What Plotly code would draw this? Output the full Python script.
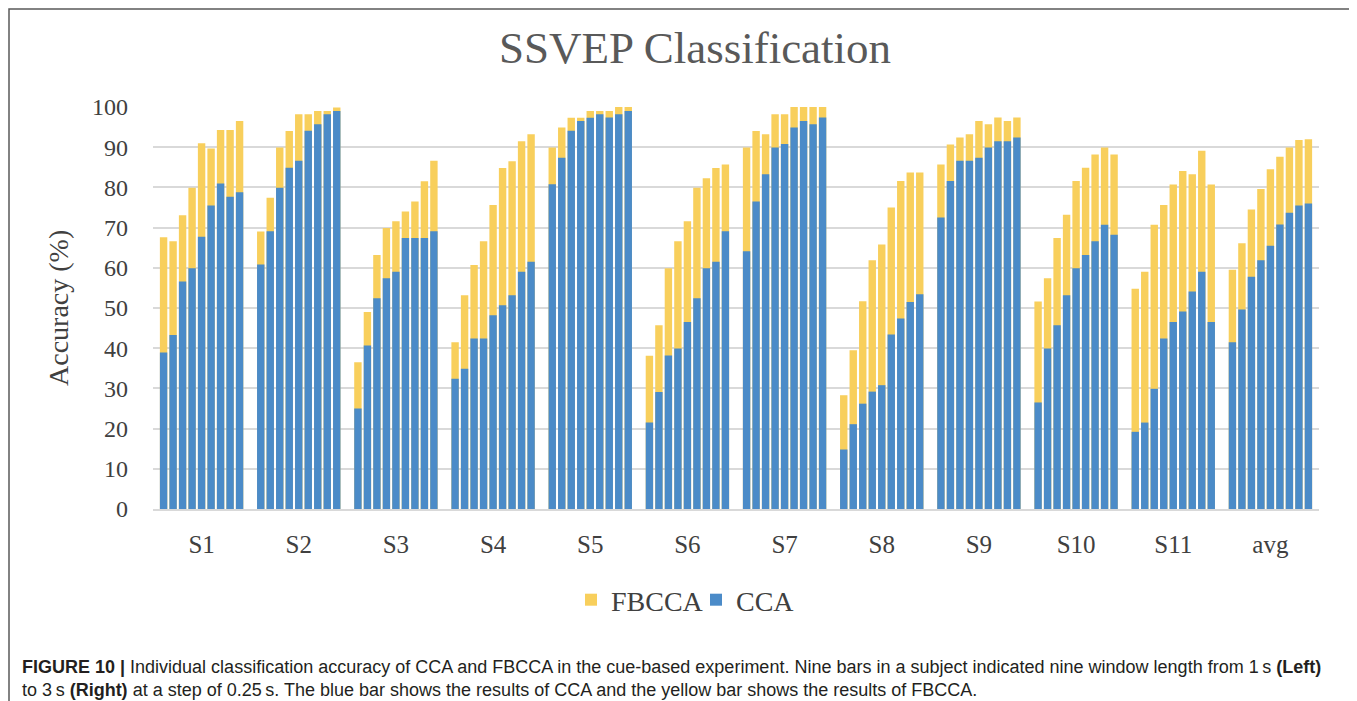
import plotly.graph_objects as go

# subjects on the x axis, nine window lengths (1 s .. 3 s, step 0.25 s) per subject
subjects = ["S1", "S2", "S3", "S4", "S5", "S6", "S7", "S8", "S9", "S10", "S11", "avg"]
windows = ["1.00 s", "1.25 s", "1.50 s", "1.75 s", "2.00 s", "2.25 s", "2.50 s", "2.75 s", "3.00 s"]

# FBCCA accuracy (%), one row per subject, one value per window length
fbcca = [
    [67.6, 66.6, 73.1, 79.9, 91.0, 89.7, 94.3, 94.3, 96.5],
    [69.0, 77.4, 89.9, 94.0, 98.2, 98.2, 99.0, 99.0, 99.9],
    [36.5, 49.0, 63.2, 69.9, 71.6, 74.0, 76.5, 81.5, 86.6],
    [41.5, 53.2, 60.7, 66.6, 75.6, 84.8, 86.5, 91.5, 93.2],
    [89.9, 94.9, 97.3, 97.3, 99.0, 99.0, 99.0, 100.0, 100.0],
    [38.1, 45.7, 59.9, 66.6, 71.6, 79.9, 82.3, 84.8, 85.7],
    [89.9, 94.0, 93.2, 98.2, 98.2, 100.0, 100.0, 100.0, 100.0],
    [28.3, 39.5, 51.7, 61.9, 65.8, 75.0, 81.6, 83.7, 83.7],
    [85.7, 90.7, 92.4, 93.2, 96.5, 95.7, 97.4, 96.5, 97.4],
    [51.6, 57.4, 67.4, 73.2, 81.6, 84.9, 88.2, 89.9, 88.2],
    [54.8, 59.0, 70.7, 75.6, 80.7, 84.1, 83.3, 89.1, 80.7],
    [59.5, 66.1, 74.5, 79.6, 84.5, 87.6, 89.9, 91.8, 92.0],
]

# CCA accuracy (%)
cca = [
    [38.9, 43.3, 56.6, 59.9, 67.7, 75.5, 81.0, 77.7, 78.8],
    [60.8, 69.1, 79.9, 84.9, 86.6, 94.1, 95.7, 98.2, 99.0],
    [25.0, 40.7, 52.4, 57.4, 59.0, 67.4, 67.4, 67.4, 69.1],
    [32.4, 34.9, 42.4, 42.4, 48.2, 50.7, 53.2, 59.0, 61.5],
    [80.8, 87.4, 94.1, 96.5, 97.3, 98.2, 97.4, 98.2, 99.0],
    [21.5, 29.1, 38.2, 39.9, 46.5, 52.4, 59.9, 61.5, 69.1],
    [64.1, 76.5, 83.3, 89.9, 90.8, 94.9, 96.5, 95.7, 97.4],
    [14.8, 21.1, 26.2, 29.2, 30.8, 43.4, 47.4, 51.5, 53.4],
    [72.5, 81.6, 86.6, 86.6, 87.4, 89.9, 91.5, 91.5, 92.4],
    [26.5, 39.9, 45.7, 53.2, 59.9, 63.2, 66.6, 70.7, 68.2],
    [19.2, 21.5, 29.9, 42.4, 46.5, 49.1, 54.1, 59.0, 46.5],
    [41.5, 49.6, 57.8, 61.9, 65.5, 70.8, 73.7, 75.5, 76.0],
]

YELLOW = "#F8CF5C"
BLUE = "#4B8BC8"
SERIF = "Liberation Serif, Times New Roman, serif"
SANS = "Liberation Sans, Arial, sans-serif"

# plot box on the page (the page body adds an 8px margin to the figure)
PAGE_OFF = 8
BOX_L, BOX_R, BOX_T, BOX_B = 153, 1319, 107, 509


def px(x):
    """Page x pixel -> paper x."""
    return (x - BOX_L) / (BOX_R - BOX_L)


def py(y):
    """Page y pixel -> paper y."""
    return (BOX_B - y) / (BOX_B - BOX_T)


fig = go.Figure()

# FBCCA bars behind, CCA bars drawn on top at the same slot (same offsetgroup)
for name, table, color in [("FBCCA", fbcca, YELLOW), ("CCA", cca, BLUE)]:
    for k, win in enumerate(windows):
        fig.add_trace(
            go.Bar(
                x=subjects,
                y=[row[k] for row in table],
                name=name,
                legendgroup=name,
                showlegend=(k == 0),
                offsetgroup=str(k),
                marker=dict(color=color, line=dict(width=0)),
                hovertemplate=f"{name} {win}: %{{y}}%<extra></extra>",
            )
        )

W, H = 1357 - PAGE_OFF, 701 - PAGE_OFF
fig.update_layout(
    width=W,
    height=H,
    paper_bgcolor="white",
    plot_bgcolor="white",
    barmode="group",
    bargap=0.12,
    bargroupgap=0.22,
    margin=dict(l=BOX_L - PAGE_OFF, r=1357 - BOX_R, t=BOX_T - PAGE_OFF, b=701 - BOX_B),
    font=dict(family=SERIF, color="#404040"),
    showlegend=True,
    legend=dict(
        orientation="h",
        x=px(696),
        xanchor="center",
        y=py(600),
        yanchor="middle",
        font=dict(family=SERIF, size=28, color="#404040"),
        itemwidth=30,
        entrywidth=80,
        traceorder="normal",
    ),
    annotations=[
        dict(
            text="SSVEP Classification",
            xref="paper", yref="paper", x=px(695), y=py(48),
            xanchor="center", yanchor="middle", showarrow=False,
            font=dict(family=SERIF, size=45, color="#595959"),
        ),
        dict(
            text="Accuracy (%)",
            xref="paper", yref="paper", x=px(58), y=py(308),
            xanchor="center", yanchor="middle", showarrow=False, textangle=-90,
            font=dict(family=SERIF, size=28, color="#404040"),
        ),
        dict(
            text="<b>FIGURE 10 |</b> Individual classification accuracy of CCA and FBCCA in the "
                 "cue-based experiment. Nine bars in a subject indicated nine window length from "
                 "1\u2009s <b>(Left)</b>",
            xref="paper", yref="paper", x=px(20), y=py(667),
            xanchor="left", yanchor="middle", showarrow=False, align="left",
            font=dict(family=SANS, size=18, color="#231F20"),
        ),
        dict(
            text="to 3\u2009s <b>(Right)</b> at a step of 0.25\u2009s. The blue bar shows the results "
                 "of CCA and the yellow bar shows the results of FBCCA.",
            xref="paper", yref="paper", x=px(20), y=py(690),
            xanchor="left", yanchor="middle", showarrow=False, align="left",
            font=dict(family=SANS, size=18, color="#231F20"),
        ),
    ],
    shapes=[
        # grey frame around the whole figure panel
        dict(
            type="rect", xref="paper", yref="paper",
            x0=px(9), x1=px(1352), y0=py(706), y1=py(9),
            line=dict(color="#5A5A5A", width=1.5),
            fillcolor="rgba(0,0,0,0)", layer="below",
        )
    ],
)

fig.update_yaxes(
    range=[0, 100],
    dtick=10,
    showgrid=True,
    gridcolor="#D9D9D9",
    gridwidth=2,
    zeroline=False,
    showline=False,
    ticks="",
    ticklabelstandoff=24,
    tickfont=dict(family=SERIF, size=24, color="#404040"),
)
fig.update_xaxes(
    showgrid=False,
    showline=True,
    linecolor="#D9D9D9",
    linewidth=2,
    ticks="",
    ticklabelstandoff=12,
    tickfont=dict(family=SERIF, size=25, color="#404040"),
)

fig.write_html("out.html")
